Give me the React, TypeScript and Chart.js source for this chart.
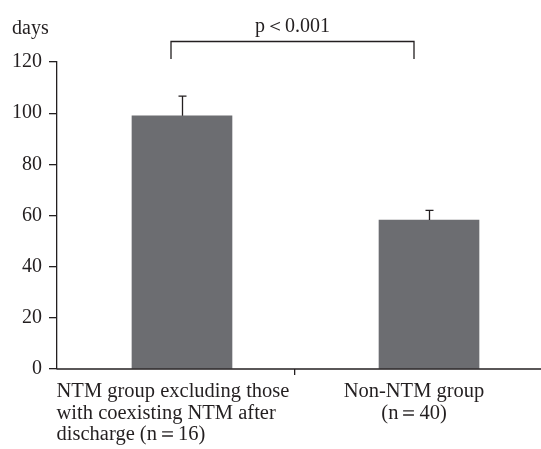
import React, { useEffect, useRef } from 'react';
import { Chart, registerables } from 'chart.js';

Chart.register(...registerables);

// ---- data ----
const categories: string[][] = [
  ['NTM group excluding those', 'with coexisting NTM after', 'discharge (n＝16)'],
  ['Non-NTM group', '(n＝40)'],
];
const labelAlign = ['left', 'center'];
const means = [99, 58.2];
const errorUp = [7.7, 3.8];
const yTickMin = 0;
const yTickMax = 120;
const yTickStep = 20;
const yUnit = 'days';
const pLabel = 'p＜0.001';
const bracketTop = 128.2;
const bracketBottom = 121.2;

const FONT = '"Liberation Serif", "Times New Roman", serif';
const INK = '#231f20';
const BAR = '#6c6d71';

const overlay = {
  id: 'overlay',
  afterDraw(chart: any) {
    const { ctx, chartArea, scales } = chart;
    const x = scales.x;
    const x2 = scales.x2;
    const y = scales.y;
    ctx.save();
    ctx.strokeStyle = INK;
    ctx.fillStyle = INK;
    ctx.lineWidth = 1.3;

    // x axis line
    ctx.beginPath();
    ctx.moveTo(chartArea.left - 0.5, chartArea.bottom);
    ctx.lineTo(chart.width, chartArea.bottom);
    ctx.stroke();

    // error bars
    means.forEach((m, i) => {
      const px = Math.round(x2.getPixelForValue(i)) + 0.5;
      const y0 = y.getPixelForValue(m);
      const y1 = y.getPixelForValue(m + errorUp[i]);
      ctx.beginPath();
      ctx.moveTo(px, y0);
      ctx.lineTo(px, y1);
      ctx.moveTo(px - 4, y1);
      ctx.lineTo(px + 4, y1);
      ctx.stroke();
    });

    // x labels
    ctx.font = `20.5px ${FONT}`;
    ctx.textBaseline = 'alphabetic';
    categories.forEach((lines, i) => {
      const cx = x.getPixelForValue(i);
      const maxW = Math.max(...lines.map((l) => ctx.measureText(l).width));
      lines.forEach((l, j) => {
        const by = chartArea.bottom + 28 + j * 21.5;
        if (labelAlign[i] === 'left') {
          ctx.textAlign = 'left';
          ctx.fillText(l, cx - maxW / 2 - 3, by);
        } else {
          ctx.textAlign = 'center';
          ctx.fillText(l, cx, by);
        }
      });
    });

    // unit label
    ctx.font = `20px ${FONT}`;
    ctx.textAlign = 'left';
    ctx.fillText(yUnit, 12, 34);

    // significance bracket
    const bx0 = x.getPixelForValue(0) - 5;
    const bx1 = x.getPixelForValue(1);
    const byTop = Math.round(y.getPixelForValue(bracketTop)) + 0.5;
    const byBot = y.getPixelForValue(bracketBottom);
    ctx.beginPath();
    ctx.moveTo(bx0, byBot);
    ctx.lineTo(bx0, byTop);
    ctx.lineTo(bx1, byTop);
    ctx.lineTo(bx1, byBot);
    ctx.stroke();
    ctx.textAlign = 'center';
    ctx.fillText(pLabel, (bx0 + bx1) / 2, byTop - 10);

    ctx.restore();
  },
};

export default function App() {
  const ref = useRef<HTMLCanvasElement>(null);
  useEffect(() => {
    if (!ref.current) return;
    const chart = new Chart(ref.current, {
      type: 'bar',
      data: {
        labels: categories.map((c) => c.join(' ')),
        datasets: [
          {
            data: means.map((v, i) => ({ x: i, y: v })),
            xAxisID: 'x2',
            backgroundColor: BAR,
            borderWidth: 0,
            barThickness: 100,
          },
        ],
      },
      options: {
        animation: false,
        responsive: true,
        maintainAspectRatio: false,
        layout: { padding: { top: 62, right: 8, bottom: 0, left: 0 } },
        plugins: { legend: { display: false }, tooltip: { enabled: false }, title: { display: false } },
        scales: {
          x: {
            type: 'category',
            position: 'bottom',
            offset: true,
            grid: {
              display: true,
              drawOnChartArea: false,
              offset: true,
              tickLength: 6,
              lineWidth: 1.3,
              color: (c: any) => (c.index === 1 ? INK : 'rgba(0,0,0,0)'),
            },
            border: { display: false },
            ticks: { display: false },
            afterFit: (s: any) => {
              s.height = 80;
            },
          },
          x2: {
            type: 'linear',
            display: false,
            offset: false,
            min: -0.506,
            max: 1.421,
          },
          y: {
            min: yTickMin,
            max: yTickMax,
            ticks: {
              stepSize: yTickStep,
              color: INK,
              padding: 7,
              font: { family: FONT, size: 20 },
            },
            grid: {
              drawOnChartArea: false,
              tickLength: 8,
              color: INK,
              lineWidth: 1.3,
            },
            border: { display: true, color: INK, width: 1.3 },
            afterFit: (s: any) => {
              s.width = 57;
            },
          },
        },
      },
      plugins: [overlay],
    });
    return () => chart.destroy();
  }, []);
  return (
    <div style={{ position: 'absolute', left: 0, top: 0, width: 541, height: 449, background: '#fff' }}>
      <canvas ref={ref} />
    </div>
  );
}
